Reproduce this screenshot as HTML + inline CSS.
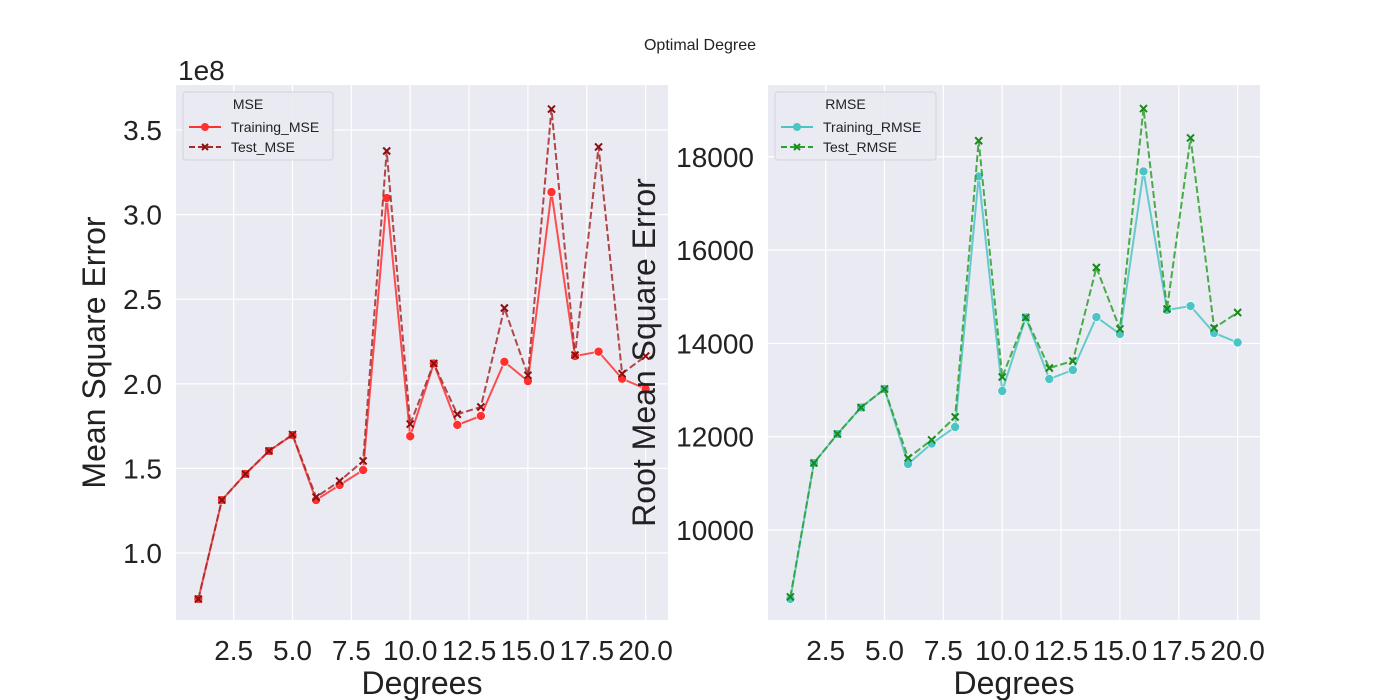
<!DOCTYPE html>
<html><head><meta charset="utf-8">
<style>
body{margin:0;background:#fff;}
svg{display:block;font-family:"Liberation Sans",Arial,sans-serif;}
</style></head>
<body>
<svg id="chart" width="1400" height="700" viewBox="0 0 1400 700">
<text x="700" y="50" text-anchor="middle" font-size="16" fill="#222">Optimal Degree</text>
</svg>
<script>
const degrees = [1,2,3,4,5,6,7,8,9,10,11,12,13,14,15,16,17,18,19,20];
const trainingMSE = [0.728,1.313,1.467,1.603,1.697,1.313,1.402,1.49,3.098,1.69,2.12,1.757,1.81,2.13,2.016,3.133,2.164,2.19,2.03,1.97];
const testMSE = [0.728,1.313,1.467,1.603,1.70,1.33,1.425,1.544,3.376,1.762,2.12,1.82,1.863,2.448,2.05,3.624,2.17,3.40,2.06,2.164];
const trainingRMSE = [8521,11436,12058,12626,13023,11415,11852,12208,17581,12980,14556,13237,13430,14566,14202,17688,14717,14802,14224,14020];
const testRMSE = [8564,11436,12058,12626,13023,11544,11930,12423,18346,13280,14556,13473,13623,15628,14310,19035,14738,18406,14331,14663];
const xTicks = [2.5,5.0,7.5,10.0,12.5,15.0,17.5,20.0];
const mseTicks = [1.0,1.5,2.0,2.5,3.0,3.5];
const rmseTicks = [10000,12000,14000,16000,18000];

const NS="http://www.w3.org/2000/svg";
const svg=document.getElementById('chart');
function mk(tag,attrs,parent){const e=document.createElementNS(NS,tag);for(const k in attrs)e.setAttribute(k,attrs[k]);(parent||svg).appendChild(e);return e;}

function panel(cfg){
  const {L,R,T,B,ymin,ymax,yticks,series,ylabel,legendTitle,legendW,offsetLabel,ylabelX,id}=cfg;
  const xmin=0.05,xmax=20.95;
  const sx=v=>L+(v-xmin)/(xmax-xmin)*(R-L);
  const sy=v=>B-(v-ymin)/(ymax-ymin)*(B-T);
  const g=mk('g',{});
  
  
  const bg=mk('rect',{x:L,y:T,width:R-L,height:B-T,fill:'#eaeaf2'},g);
  
  
  xTicks.forEach(t=>{
    const x=sx(t);
    mk('line',{x1:x,x2:x,y1:T,y2:B,stroke:'#fff','stroke-width':1.2},g);
    const tx=mk('text',{x:x,y:660,'text-anchor':'middle','font-size':28,fill:'#222'},g);
    tx.textContent=t.toFixed(1);
    
    
  });
  yticks.forEach(t=>{
    const y=sy(t);
    mk('line',{x1:L,x2:R,y1:y,y2:y,stroke:'#fff','stroke-width':1.2},g);
    const ty=mk('text',{x:L-14,y:y+10,'text-anchor':'end','font-size':28,fill:'#222'},g);
    ty.textContent=cfg.fmt(t);
    
    
  });
  series.forEach(s=>{
    const pts=degrees.map((d,i)=>sx(d)+','+sy(s.values[i])).join(' ');
    const pl=mk('polyline',{points:pts,fill:'none',stroke:s.color,'stroke-width':2,'stroke-dasharray':s.dash?'7,3':'none',opacity:0.85},g);
    
    
    degrees.forEach((d,i)=>{
      const x=sx(d),y=sy(s.values[i]);
      let m;
      if(s.dash){
        m=mk('path',{d:`M${x-3.5},${y-3.5}L${x+3.5},${y+3.5}M${x-3.5},${y+3.5}L${x+3.5},${y-3.5}`,stroke:s.mcolor,'stroke-width':2},g);
      } else {
        m=mk('circle',{cx:x,cy:y,r:4.5,fill:s.color,stroke:'#fff','stroke-width':0.6},g);
      }
      
      
    });
  });
  const xl=mk('text',{x:(L+R)/2,y:694,'text-anchor':'middle','font-size':32,fill:'#222'},g);
  xl.textContent='Degrees';
  
  
  const yl=mk('text',{x:ylabelX,y:(T+B)/2,'text-anchor':'middle','font-size':32,fill:'#222',transform:`rotate(-90 ${ylabelX} ${(T+B)/2})`},g);
  yl.textContent=ylabel;
  
  
  if(offsetLabel){
    const o=mk('text',{x:L+2,y:80,'font-size':28,fill:'#222'},g);
    o.textContent=offsetLabel;
    
    
  }
  const lg=mk('g',{},g);
  
  
  const lx=L+7,ly=92;
  mk('rect',{x:lx,y:ly,width:legendW,height:68,rx:3,fill:'#eaeaf2',stroke:'#d0d0d8',opacity:0.9},lg);
  const lt=mk('text',{x:lx+legendW/2-10,y:ly+17,'text-anchor':'middle','font-size':14,fill:'#222'},lg);
  lt.textContent=legendTitle;
  series.forEach((s,i)=>{
    const yy=ly+35+i*20;
    const e=mk('g',{},lg);
    
    
    mk('line',{x1:lx+6,x2:lx+38,y1:yy,y2:yy,stroke:s.color,'stroke-width':2,'stroke-dasharray':s.dash?'6,3':'none'},e);
    if(s.dash) mk('path',{d:`M${lx+19},${yy-3}L${lx+25},${yy+3}M${lx+19},${yy+3}L${lx+25},${yy-3}`,stroke:s.mcolor,'stroke-width':2},e);
    else mk('circle',{cx:lx+22,cy:yy,r:4,fill:s.color},e);
    const t=mk('text',{x:lx+48,y:yy+5,'font-size':14,fill:'#222'},e);
    t.textContent=s.name;
  });
}
panel({id:'mse',L:176,R:668,T:85,B:620,ymin:0.604,ymax:3.766,yticks:mseTicks,fmt:t=>t.toFixed(1),
  ylabel:'Mean Square Error',ylabelX:105,offsetLabel:'1e8',legendTitle:'MSE',legendW:150,
  series:[{name:'Training_MSE',values:trainingMSE,color:'#ff3030',dash:false},
          {name:'Test_MSE',values:testMSE,color:'#a52a2a',mcolor:'#8b1010',dash:true}]});
panel({id:'rmse',L:768,R:1260,T:85,B:620,ymin:8070,ymax:19541,yticks:rmseTicks,fmt:t=>String(t),
  ylabel:'Root Mean Square Error',ylabelX:655,offsetLabel:null,legendTitle:'RMSE',legendW:161,
  series:[{name:'Training_RMSE',values:trainingRMSE,color:'#4cc4c4',dash:false},
          {name:'Test_RMSE',values:testRMSE,color:'#2ca02c',mcolor:'#1a8a1a',dash:true}]});
</script>
</body></html>
